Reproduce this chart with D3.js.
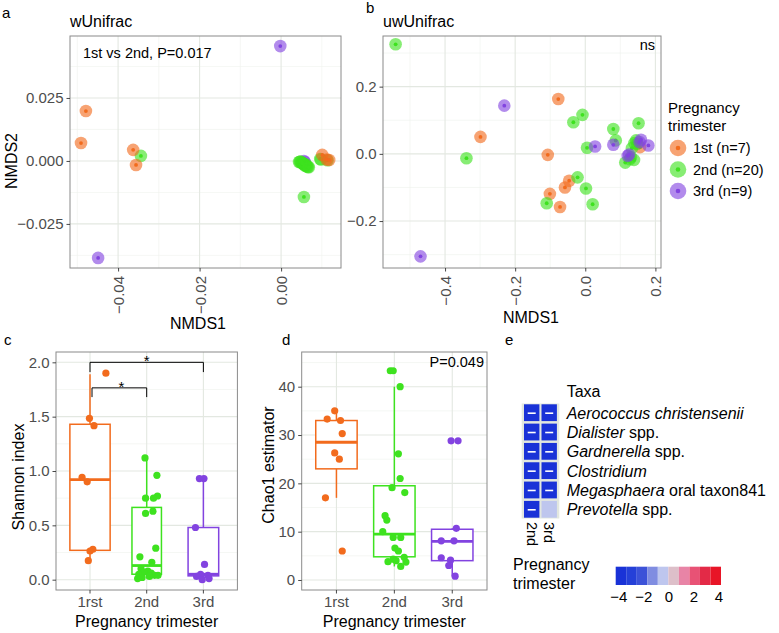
<!DOCTYPE html>
<html><head><meta charset="utf-8">
<script src="https://cdn.jsdelivr.net/npm/d3@7"></script>
<style>body{margin:0;background:#fff} text{font-family:"Liberation Sans",Arial,Helvetica,sans-serif}</style>
</head><body><svg id="chart" width="779" height="633"></svg>
<script>
// ---------------- DATA ----------------
const groups = ["1st","2nd","3rd"];
const groupLabels = ["1st (n=7)","2nd (n=20)","3rd (n=9)"];
const trimesterTicks = ["1rst","2nd","3rd"];

// Panel a: weighted UniFrac NMDS [NMDS1, NMDS2]
const wuni_1st = [[-0.0479,0.0198],[-0.0491,0.0071],[-0.0363,0.0044],[-0.0356,-0.0016],[0.0112,0.0006],[0.0101,0.0024],[0.0118,0.0004]];
const wuni_2nd = [[-0.0344,0.0020],[0.0044,-0.0004],[0.0046,-0.0003],[0.0048,-0.0002],[0.0050,-0.0006],[0.0052,-0.0008],[0.0053,-0.0010],[0.0055,-0.0012],[0.0057,-0.0013],[0.0058,-0.0018],[0.0059,-0.0016],[0.0061,-0.0014],[0.0062,-0.0020],[0.0064,-0.0022],[0.0066,-0.0024],[0.0068,-0.0025],[0.0096,0.0008],[0.0098,0.0006],[0.0114,0.0003],[0.0056,-0.0143]];
const wuni_3rd = [[-0.0449,-0.0385],[-0.0002,0.0456],[0.0056,0.0000],[0.0058,-0.0004]];
const wuniXTicks = [-0.04,-0.02,0.00];
const wuniYTicks = [-0.025,0.000,0.025];

// Panel b: unweighted UniFrac NMDS
const uwuni_1st = [[-0.077,0.163],[-0.299,0.0505],[-0.107,-0.003],[-0.046,-0.080],[-0.058,-0.100],[-0.101,-0.119],[-0.072,-0.158],[0.156,0.020]];
const uwuni_2nd = [[-0.541,0.326],[-0.339,-0.013],[-0.008,0.116],[-0.034,0.094],[0.152,0.091],[0.080,0.074],[0.087,0.040],[0.005,0.018],[0.140,0.032],[0.145,0.040],[0.133,0.017],[0.114,-0.026],[0.127,-0.016],[0.139,-0.018],[-0.022,-0.070],[0.002,-0.103],[-0.110,-0.147],[0.021,-0.150],[0.148,0.030],[0.130,-0.010]];
const uwuni_3rd = [[-0.231,0.1435],[-0.470,-0.305],[0.080,0.027],[0.028,0.022],[0.159,0.042],[0.180,0.025],[0.121,-0.006],[0.155,0.035],[0.125,-0.002]];
const uwuniXTicks = [-0.4,-0.2,0.0,0.2];
const uwuniYTicks = [-0.2,0.0,0.2];

// Panel c: Shannon index
const shannon_1st = [1.90,1.485,1.417,0.942,0.90,0.28,0.264,0.175];
const shannon_2nd = [1.12,0.96,0.77,0.75,0.75,0.63,0.61,0.29,0.21,0.16,0.10,0.08,0.07,0.06,0.05,0.04,0.04,0.03,0.02,0.01];
const shannon_3rd = [0.93,0.93,0.48,0.14,0.05,0.04,0.03,0.01,0.00];
const shannonJit_1st = [0.28,-0.01,0.07,-0.14,-0.05,0.05,0,-0.03];
const shannonJit_2nd = [-0.03,0.18,0.19,-0.02,0.12,0.11,-0.02,0.16,-0.12,0.09,-0.1,0.02,-0.05,0.08,-0.14,0.14,0.2,0.05,-0.08,-0.16];
const shannonJit_3rd = [-0.07,0.01,-0.14,0.02,-0.05,0.08,-0.12,0.1,-0.02];
const shannonLower = [0.17,0.01,0.0];
const shannonQ1 = [0.27,0.05,0.035];
const shannonMedian = [0.92,0.13,0.05];
const shannonQ3 = [1.43,0.665,0.48];
const shannonUpper = [1.89,1.12,0.93];
const shannonTicks = [0.0,0.5,1.0,1.5,2.0];
const bracketFrom = ["1rst","1rst"];
const bracketTo = ["3rd","2nd"];
const bracketY = [2.0,1.765];
const bracketTip = [1.91,1.68];

// Panel d: Chao1
const chao_1st = [35,33.3,33,30.3,26.3,25,17,6];
const chao_2nd = [43.3,43.3,40,26.1,21,19.1,18.1,13.3,12.4,10,8.8,8.8,6.6,6.0,4.7,4.3,4.0,3.8,3.7,2.8];
const chao_3rd = [28.8,28.8,10.7,8.1,8.1,4.6,4.1,3.0,0.8];
const chaoJit_1st = [-0.03,-0.16,0.07,0.1,-0.03,0.05,-0.19,0.1];
const chaoJit_2nd = [-0.07,-0.02,0.1,0.07,0.1,-0.04,0.18,-0.16,-0.13,-0.2,-0.02,0.11,0.01,0.07,0.17,-0.02,0.03,-0.11,0.2,0.11];
const chaoJit_3rd = [-0.02,0.1,0.07,-0.19,0.03,-0.19,-0.03,-0.06,0.05];
const chaoLower = [17,2.8,0.8];
const chaoQ1 = [23,4.8,4.0];
const chaoMedian = [28.5,9.5,8.0];
const chaoQ3 = [33,19.5,10.5];
const chaoUpper = [35,40,10.7];
const chaoTicks = [0,10,20,30,40];

// Panel e: heatmap
const taxaItalic = ["Aerococcus christensenii","Dialister","Gardnerella","Clostridium","Megasphaera","Prevotella"];
const taxaPlain = [""," spp."," spp.",""," oral taxon841"," spp."];
const heatCols = ["2nd","3rd"];
const heat_2nd = [-4,-4,-4,-4,-4,-4];
const heat_3rd = [-4,-4,-4,-4,-4,-0.8];
const sig_2nd = [1,1,1,1,1,1];
const sig_3rd = [1,1,1,1,1,0];
const colorbarColors = ["#1932D7","#2540D8","#3C52D8","#808DE1","#BEC6EE","#DDBFC9","#E884A6","#E85275","#E32A47","#E81527"];
const colorbarTicks = [-4,-2,0,2,4];

// ---------------- STYLE ----------------
const groupColor = {"1st":"#F26B1D","2nd":"#3EE21F","3rd":"#8243E0"};
const GRID_MAJ = "#e3e8e1", GRID_MIN = "#eef2ed", BORDER = "#8a8a8a", TICKTXT = "#4d4d4d";
const svg = d3.select("#chart");
svg.append("rect").attr("width",779).attr("height",633).attr("fill","#fff");

function txt(x,y,s,size,opts={}) {
  const t = svg.append("text").attr("x",x).attr("y",y).text(s).attr("font-size",size)
    .attr("fill",opts.fill||"#000").attr("text-anchor",opts.anchor||"start");
  if (opts.rotate!==undefined) t.attr("transform",`rotate(${opts.rotate},${x},${y})`);
  if (opts.baseline) t.attr("dominant-baseline",opts.baseline);
  return t;
}
function minors(major, dom) {
  const step = major[1]-major[0]; const out=[];
  const lo = Math.min(dom[0],dom[1]), hi = Math.max(dom[0],dom[1]);
  for (let v = major[0]-step*Math.ceil((major[0]-lo)/step)-step/2; v<=hi; v+=step) if (v>=lo && v<=hi) out.push(v);
  return out;
}
function grid(xs, ys, xMaj, yMaj, xMin, yMin) {
  const [x0,x1] = xs.range(), [y1,y0] = ys.range();
  const g = svg.append("g");
  xMin.forEach(v=>g.append("line").attr("x1",xs(v)).attr("x2",xs(v)).attr("y1",y0).attr("y2",y1).attr("stroke",GRID_MIN).attr("stroke-width",0.6));
  yMin.forEach(v=>g.append("line").attr("y1",ys(v)).attr("y2",ys(v)).attr("x1",x0).attr("x2",x1).attr("stroke",GRID_MIN).attr("stroke-width",0.6));
  xMaj.forEach(v=>g.append("line").attr("x1",xs(v)).attr("x2",xs(v)).attr("y1",y0).attr("y2",y1).attr("stroke",GRID_MAJ).attr("stroke-width",1.1));
  yMaj.forEach(v=>g.append("line").attr("y1",ys(v)).attr("y2",ys(v)).attr("x1",x0).attr("x2",x1).attr("stroke",GRID_MAJ).attr("stroke-width",1.1));
}
function border(x0,x1,y0,y1) {
  svg.append("rect").attr("x",x0).attr("y",y0).attr("width",x1-x0).attr("height",y1-y0)
    .attr("fill","none").attr("stroke",BORDER).attr("stroke-width",1);
}
function styleAxis(g) {
  g.select(".domain").remove();
  g.selectAll(".tick line").attr("stroke","#333").attr("stroke-width",0.9);
  g.selectAll(".tick text").attr("fill",TICKTXT).attr("font-size",15)
    .attr("font-family",'"Liberation Sans",Arial,Helvetica,sans-serif');
}
function leftAxis(ys, x, ticks, fmt) {
  const g = svg.append("g").attr("transform",`translate(${x},0)`)
    .call(d3.axisLeft(ys).tickValues(ticks).tickFormat(fmt).tickSize(3.5).tickPadding(3));
  styleAxis(g);
}
function bottomAxisRot(xs, y, ticks, fmt) {
  const g = svg.append("g").attr("transform",`translate(0,${y})`)
    .call(d3.axisBottom(xs).tickValues(ticks).tickFormat(fmt).tickSize(3.5));
  styleAxis(g);
  g.selectAll(".tick text").attr("x",0).attr("y",0).attr("dy",null)
    .attr("transform","translate(0,8) rotate(-90)").attr("text-anchor","end").attr("dominant-baseline","central");
}

// ---------------- PANEL a ----------------
const xA = d3.scaleLinear().domain([-0.0518,0.0147]).range([70,341]);
const yA = d3.scaleLinear().domain([-0.0425,0.0496]).range([268,36]);
grid(xA,yA,wuniXTicks,wuniYTicks,minors(wuniXTicks,xA.domain()),minors(wuniYTicks,yA.domain()));
function drawPoints(xs, ys, pts, grp) {
  const g = svg.append("g");
  g.selectAll("circle.o").data(pts).join("circle").attr("cx",d=>xs(d[0])).attr("cy",d=>ys(d[1]))
    .attr("r",6.3).attr("fill",groupColor[grp]).attr("fill-opacity",0.62);
  g.selectAll("circle.i").data(pts).join("circle").attr("cx",d=>xs(d[0])).attr("cy",d=>ys(d[1]))
    .attr("r",1.9).attr("fill",groupColor[grp]);
}
drawPoints(xA,yA,wuni_3rd,"3rd");
drawPoints(xA,yA,wuni_2nd,"2nd");
drawPoints(xA,yA,wuni_1st,"1st");
border(70,341,36,268);
leftAxis(yA,70,wuniYTicks,d3.format(".3f"));
bottomAxisRot(xA,268,wuniXTicks,d3.format(".2f"));
txt(2,18,"a",15);
txt(70,27,"wUnifrac",16);
txt(83,58,"1st vs 2nd, P=0.017",14.5);
txt(17,161,"NMDS2",16,{anchor:"middle",rotate:-90});
txt(198,329,"NMDS1",16,{anchor:"middle"});

// ---------------- PANEL b ----------------
const xB = d3.scaleLinear().domain([-0.577,0.216]).range([383,661]);
const yB = d3.scaleLinear().domain([-0.3397,0.3507]).range([268,36]);
grid(xB,yB,uwuniXTicks,uwuniYTicks,minors(uwuniXTicks,xB.domain()),minors(uwuniYTicks,yB.domain()));
drawPoints(xB,yB,uwuni_1st,"1st");
drawPoints(xB,yB,uwuni_2nd,"2nd");
drawPoints(xB,yB,uwuni_3rd,"3rd");
border(383,661,36,268);
leftAxis(yB,383,uwuniYTicks,d3.format(".1f"));
bottomAxisRot(xB,268,uwuniXTicks,d3.format(".1f"));
txt(366,13,"b",15);
txt(383,27,"uwUnifrac",16);
txt(655,50,"ns",14.5,{anchor:"end"});
txt(531,323,"NMDS1",16,{anchor:"middle"});
// legend
txt(668,113,"Pregnancy",15);
txt(668,131,"trimester",15);
const legY = d3.scalePoint().domain(groups).range([148,191]);
groups.forEach((gname,i)=>{
  svg.append("circle").attr("cx",678).attr("cy",legY(gname)).attr("r",8.3).attr("fill",groupColor[gname]).attr("fill-opacity",0.62);
  svg.append("circle").attr("cx",678).attr("cy",legY(gname)).attr("r",2.3).attr("fill",groupColor[gname]);
  txt(693,legY(gname),groupLabels[i],14.5,{baseline:"central"});
});

// ---------------- box panels ----------------
function boxPanel(o) {
  const xs = d3.scaleBand().domain(trimesterTicks).range([o.x0,o.x1]).paddingOuter(0.1).paddingInner(0);
  const ys = d3.scaleLinear().domain(o.ydom).range([o.y1,o.y0]);
  const cx = c => xs(c)+xs.bandwidth()/2;
  const step = xs.step();
  const g = svg.append("g");
  minors(o.ticks,o.ydom).forEach(v=>g.append("line").attr("x1",o.x0).attr("x2",o.x1).attr("y1",ys(v)).attr("y2",ys(v)).attr("stroke",GRID_MIN).attr("stroke-width",0.6));
  o.ticks.forEach(v=>g.append("line").attr("x1",o.x0).attr("x2",o.x1).attr("y1",ys(v)).attr("y2",ys(v)).attr("stroke",GRID_MAJ).attr("stroke-width",1.1));
  trimesterTicks.forEach(c=>g.append("line").attr("x1",cx(c)).attr("x2",cx(c)).attr("y1",o.y0).attr("y2",o.y1).attr("stroke",GRID_MAJ).attr("stroke-width",1.1));
  trimesterTicks.forEach((c,i)=>{
    const col = groupColor[groups[i]], w = o.widths[i]*step, x = cx(c);
    g.append("line").attr("x1",x).attr("x2",x).attr("y1",ys(o.upper[i])).attr("y2",ys(o.q3[i])).attr("stroke",col).attr("stroke-width",1.5);
    g.append("line").attr("x1",x).attr("x2",x).attr("y1",ys(o.lower[i])).attr("y2",ys(o.q1[i])).attr("stroke",col).attr("stroke-width",1.5);
    g.append("rect").attr("x",x-w/2).attr("width",w).attr("y",ys(o.q3[i])).attr("height",ys(o.q1[i])-ys(o.q3[i]))
      .attr("fill","#fff").attr("stroke",col).attr("stroke-width",1.5);
    g.append("line").attr("x1",x-w/2).attr("x2",x+w/2).attr("y1",ys(o.median[i])).attr("y2",ys(o.median[i])).attr("stroke",col).attr("stroke-width",2.8);
    g.selectAll(null).data(o.vals[i]).join("circle")
      .attr("cx",(d,j)=>x+o.jit[i][j]*step).attr("cy",d=>ys(d)).attr("r",3.6).attr("fill",col);
  });
  border(o.x0,o.x1,o.y0,o.y1);
  leftAxis(ys,o.x0,o.ticks,o.fmt);
  const ga = svg.append("g").attr("transform",`translate(0,${o.y1})`)
    .call(d3.axisBottom(xs).tickSize(3.5).tickPadding(3));
  styleAxis(ga);
  ga.selectAll(".tick text").attr("font-size",15);
  txt((o.x0+o.x1)/2,627,"Pregnancy trimester",16,{anchor:"middle"});
  return {xs,ys,cx};
}
const C = boxPanel({x0:56,x1:237.4,y0:352,y1:590,ydom:[-0.095,2.095],ticks:shannonTicks,fmt:d3.format(".1f"),
  widths:[0.71,0.52,0.54],lower:shannonLower,q1:shannonQ1,median:shannonMedian,q3:shannonQ3,upper:shannonUpper,
  vals:[shannon_1st,shannon_2nd,shannon_3rd],jit:[shannonJit_1st,shannonJit_2nd,shannonJit_3rd]});
bracketFrom.forEach((f,i)=>{
  const xa = C.cx(f)+(i===1?2:0), xb = C.cx(bracketTo[i]), y = C.ys(bracketY[i]), yt = C.ys(bracketTip[i]);
  svg.append("path").attr("d",`M${xa},${yt}V${y}H${xb}V${yt}`).attr("fill","none").attr("stroke","#000").attr("stroke-width",1);
  txt((xa+xb)/2+ (i===1?2:0),y+4,"*",15,{anchor:"middle"});
});
txt(4,345,"c",15);
txt(24,477,"Shannon index",16,{anchor:"middle",rotate:-90});

const D = boxPanel({x0:301.7,x1:487,y0:352,y1:590,ydom:[-2.07,47.18],ticks:chaoTicks,fmt:d3.format("d"),
  widths:[0.715,0.715,0.715],lower:chaoLower,q1:chaoQ1,median:chaoMedian,q3:chaoQ3,upper:chaoUpper,
  vals:[chao_1st,chao_2nd,chao_3rd],jit:[chaoJit_1st,chaoJit_2nd,chaoJit_3rd]});
txt(282,345,"d",15);
txt(274,465,"Chao1 estimator",16,{anchor:"middle",rotate:-90});
txt(484,367,"P=0.049",14.5,{anchor:"end"});

// ---------------- PANEL e ----------------
txt(505,345,"e",15);
const xH = d3.scalePoint().domain(heatCols).range([531.7,549.2]);
const yH = d3.scalePoint().domain(taxaItalic).range([412.7,509.3]);
const cbScale = d3.scaleLinear().domain([-4.2,4.2]).range([615.7,721]);
const binEdges = d3.range(1,colorbarColors.length).map(k=>-4.2+k*8.4/colorbarColors.length);
const fillScale = d3.scaleThreshold().domain(binEdges).range(colorbarColors);
svg.append("rect").attr("x",521.7).attr("y",403.5).attr("width",37.6).attr("height",115).attr("fill","#e2e7df");
const heatVals = [heat_2nd, heat_3rd], sigVals = [sig_2nd, sig_3rd];
heatCols.forEach((c,ci)=>{
  taxaItalic.forEach((t,ri)=>{
    const x = xH(c), y = yH(t);
    svg.append("rect").attr("x",x-7.7).attr("y",y-8.4).attr("width",15.4).attr("height",16.8).attr("fill",fillScale(heatVals[ci][ri]));
    if (sigVals[ci][ri]) svg.append("line").attr("x1",x-4).attr("x2",x+4).attr("y1",y+0.5).attr("y2",y+0.5).attr("stroke","#fff").attr("stroke-width",1.6);
  });
  txt(xH(c),522,c,14.5,{rotate:90,baseline:"central"});
});
txt(566.7,397,"Taxa",16);
taxaItalic.forEach((t,i)=>{
  const el = txt(566.7,yH(t),"",16,{baseline:"central"});
  el.append("tspan").attr("font-style","italic").text(t);
  if (taxaPlain[i]) el.append("tspan").text(taxaPlain[i]);
});
txt(513,570,"Pregnancy",16);
txt(513,589,"trimester",16);
colorbarColors.forEach((col,k)=>{
  const a = -4.2+k*8.4/colorbarColors.length, b = a+8.4/colorbarColors.length;
  svg.append("rect").attr("x",cbScale(a)).attr("y",566.7).attr("width",cbScale(b)-cbScale(a)).attr("height",18.3).attr("fill",col);
});
const cbAxis = svg.append("g").attr("transform","translate(0,585)")
  .call(d3.axisBottom(cbScale).tickValues(colorbarTicks).tickSize(0).tickPadding(6).tickFormat(d3.format("d")));
cbAxis.select(".domain").remove();
cbAxis.selectAll(".tick text").attr("fill","#000").attr("font-size",15).attr("font-family",'"Liberation Sans",Arial,Helvetica,sans-serif');
</script></body></html>
